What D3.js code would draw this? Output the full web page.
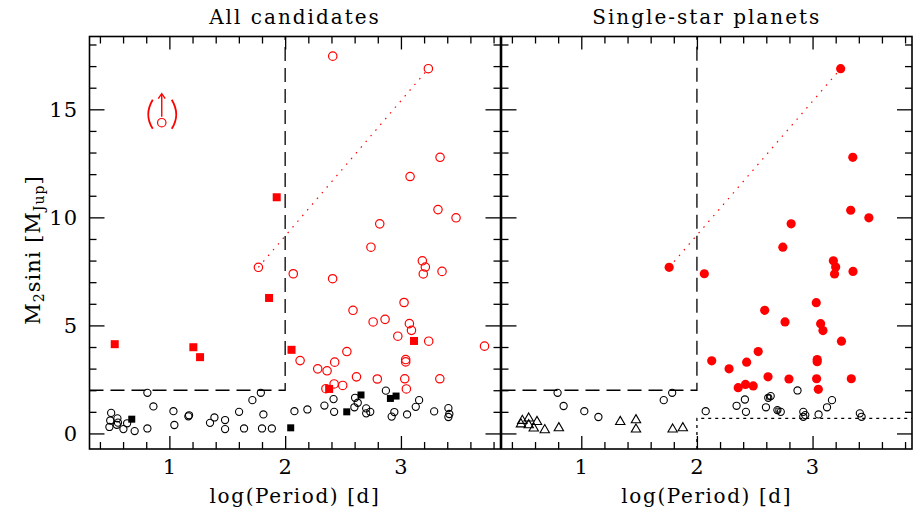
<!DOCTYPE html>
<html>
<head>
<meta charset="utf-8">
<script src="https://cdn.jsdelivr.net/npm/d3@7"></script>
<style>
  html, body { margin: 0; padding: 0; background: #fff; }
  svg { display: block; }
  text { font-family: "DejaVu Serif", "Liberation Serif", serif; fill: #000; }
</style>
</head>
<body>
<svg id="chart" width="917" height="510"></svg>
<script>
// ---- data: [log(Period), M2 sini] ----
var panelTitles = ["All candidates", "Single-star planets"];
var xTicksMajor = [1, 2, 3];
var yTicksMajor = [0, 5, 10, 15];

// left panel
var allRedOpen = [
  [2.411,17.46],[3.237,16.88],[3.338,12.78],[3.079,11.89],[3.32,10.36],[3.476,9.98],
  [2.817,9.70],[2.741,8.62],[1.769,7.69],[3.185,7.99],[3.211,7.70],[3.193,7.38],
  [3.355,7.50],[2.070,7.39],[2.410,7.16],[3.027,6.06],[2.586,5.70],[2.760,5.16],
  [2.863,5.28],[3.073,5.08],[3.091,4.77],[2.973,4.50],[3.240,4.27],[3.722,4.04],
  [2.533,3.79],[2.129,3.37],[2.428,3.30],[3.041,3.42],[3.041,3.31],[2.281,2.99],
  [2.362,2.90],[2.616,2.62],[2.796,2.52],[3.033,2.53],[3.336,2.53],[2.423,2.29],
  [2.497,2.22],[2.352,2.07],[3.047,2.06]
];
var allRedSquare = [
  [1.927,10.93],[1.861,6.27],[3.113,4.28],[0.528,4.13],[1.207,3.99],[1.265,3.53],
  [2.055,3.87],[2.380,2.06]
];
var upperLimit = [[0.934,14.38]];
var allBlackOpen = [
  [0.497,0.95],[0.489,0.60],[0.551,0.70],[0.556,0.50],[0.482,0.30],[0.546,0.40],
  [0.603,0.20],[0.635,0.47],[0.700,0.11],[0.810,1.88],[0.862,1.25],[1.035,1.03],
  [1.043,0.39],[1.164,0.79],[1.170,0.84],[0.810,0.23],[1.351,0.49],[1.389,0.74],
  [1.481,0.62],[1.481,0.20],[1.602,1.00],[1.645,0.23],[1.717,1.54],[1.790,1.88],
  [1.812,0.88],[1.800,0.23],[1.885,0.23],[2.080,1.03],[2.192,1.11],[2.339,1.29],
  [2.418,1.59],[2.423,1.00],[2.598,1.21],[2.604,1.65],[2.627,1.42],[2.700,1.16],
  [2.700,0.93],[2.735,1.00],[2.870,1.98],[2.920,0.78],[2.943,0.99],[3.053,0.88],
  [3.128,1.23],[3.157,1.54],[3.287,1.02],[3.410,1.17],[3.418,0.90],[3.410,0.76]
];
var allBlackSquare = [
  [0.675,0.66],[2.048,0.26],[2.532,1.00],[2.655,1.78],[2.909,1.62],[2.958,1.73]
];

// right panel
var singleRed = [
  [3.243,16.88],[3.348,12.78],[3.330,10.33],[3.487,9.98],[2.815,9.70],[2.743,8.62],
  [1.760,7.69],[3.180,7.99],[3.200,7.70],[3.190,7.38],[3.350,7.50],[2.064,7.39],
  [3.032,6.05],[2.586,5.70],[2.762,5.16],[3.070,5.08],[3.090,4.76],[3.250,4.27],
  [2.530,3.79],[2.128,3.36],[2.430,3.30],[3.040,3.42],[3.040,3.32],[2.278,2.99],
  [2.615,2.62],[2.796,2.52],[3.035,2.53],[3.335,2.53],[2.357,2.12],[2.420,2.27],
  [2.487,2.20],[3.050,2.04]
];
var singleBlackOpen = [
  [0.795,1.88],[0.847,1.27],[1.026,1.03],[1.148,0.76],[1.713,1.54],[1.786,1.88],
  [2.076,1.03],[2.343,1.28],[2.415,1.57],[2.424,1.00],[2.597,1.21],[2.617,1.65],
  [2.638,1.73],[2.696,1.08],[2.725,1.00],[2.870,1.99],[2.920,1.00],[2.937,0.85],
  [2.920,0.77],[3.052,0.88],[3.125,1.21],[3.168,1.54],[3.409,0.93],[3.424,0.77]
];
var singleBlackInner = [[2.620,1.68],[2.700,1.08]];
var singleTriangle = [
  [0.478,0.43],[0.490,0.59],[0.545,0.70],[0.545,0.39],[0.589,0.24],[0.617,0.54],
  [0.684,0.16],[0.806,0.25],[1.337,0.54],[1.473,0.62],[1.473,0.19],[1.790,0.19],
  [1.878,0.25]
];

var trendAll = [[1.769,7.69],[3.237,16.88]];
var trendSingle = [[1.760,7.69],[3.243,16.88]];
var boxCorner = [2, 2];     // dashed limits (logP = 2, M = 2)
var lowMassCut = 0.7;       // dotted limit in right panel

var xDomain = [0.31, 3.86];
var yDomain = [-0.72, 18.37];

// ---- layout ----
var svg = d3.select("#chart");
var yTop = 36.5, yBot = 449;
var panels = [
  { x0: 89.5, x1: 500.5, title: panelTitles[0] },
  { x0: 501.5, x1: 912, title: panelTitles[1] }
];

var y = d3.scaleLinear().domain(yDomain).range([yBot, yTop]);

var minorX = d3.range(0.4, 3.81, 0.2).filter(function(v) {
  return Math.abs(v - Math.round(v)) > 0.01;
});
var minorY = d3.range(1, 19).filter(function(v) { return v % 5 !== 0; });

panels.forEach(function(p, i) {
  p.x = d3.scaleLinear().domain(xDomain).range([p.x0, p.x1]);
  var g = svg.append("g");

  function ticks(axisFn, scale, vals, len, tr) {
    var a = g.append("g").attr("transform", tr)
      .call(axisFn(scale).tickValues(vals).tickSize(len).tickFormat(""));
    a.select(".domain").remove();
    a.selectAll("line").attr("stroke", "#000").attr("stroke-width", 1.3);
  }
  // inside ticks on all four sides
  ticks(d3.axisBottom, p.x, xTicksMajor, -13, "translate(0," + yBot + ")");
  ticks(d3.axisBottom, p.x, minorX, -7, "translate(0," + yBot + ")");
  ticks(d3.axisTop, p.x, xTicksMajor, -13, "translate(0," + yTop + ")");
  ticks(d3.axisTop, p.x, minorX, -7, "translate(0," + yTop + ")");
  ticks(d3.axisLeft, y, yTicksMajor, -15, "translate(" + p.x0 + ",0)");
  ticks(d3.axisLeft, y, minorY, -7, "translate(" + p.x0 + ",0)");
  ticks(d3.axisRight, y, yTicksMajor, -15, "translate(" + p.x1 + ",0)");
  ticks(d3.axisRight, y, minorY, -7, "translate(" + p.x1 + ",0)");

  // tick labels
  g.selectAll(".xl").data(xTicksMajor).enter().append("text")
    .attr("x", function(d) { return p.x(d); })
    .attr("y", 474)
    .attr("text-anchor", "middle")
    .style("font-size", "21px")
    .text(function(d) { return d; });

  if (i === 0) {
    g.selectAll(".yl").data(yTicksMajor).enter().append("text")
      .attr("x", 78)
      .attr("y", function(d) { return y(d) + 7.5; })
      .attr("text-anchor", "end")
      .style("font-size", "21px")
      .style("letter-spacing", "1px")
      .text(function(d) { return d; });
  }

  // frame
  g.append("rect")
    .attr("x", p.x0).attr("y", yTop)
    .attr("width", p.x1 - p.x0).attr("height", yBot - yTop)
    .attr("fill", "none").attr("stroke", "#000").attr("stroke-width", 1.6);

  // title and x label
  g.append("text")
    .attr("x", (p.x0 + p.x1) / 2).attr("y", 24)
    .attr("text-anchor", "middle")
    .style("font-size", "20px").style("letter-spacing", "2px")
    .text(p.title);
  g.append("text")
    .attr("x", (p.x0 + p.x1) / 2).attr("y", 503)
    .attr("text-anchor", "middle")
    .style("font-size", "20px").style("letter-spacing", "1.6px")
    .text("log(Period) [d]");

  // dashed box
  g.append("path")
    .attr("d", "M" + p.x0 + "," + y(boxCorner[1]) +
               "L" + p.x(boxCorner[0]) + "," + y(boxCorner[1]) +
               "L" + p.x(boxCorner[0]) + "," + yTop)
    .attr("fill", "none").attr("stroke", "#000").attr("stroke-width", 1.3)
    .attr("stroke-dasharray", "14,7");
});

var L = panels[0], R = panels[1];

// right panel dotted low-mass limit
svg.append("path")
  .attr("d", "M" + R.x(boxCorner[0]) + "," + yBot +
             "L" + R.x(boxCorner[0]) + "," + y(lowMassCut) +
             "L" + R.x1 + "," + y(lowMassCut))
  .attr("fill", "none").attr("stroke", "#000").attr("stroke-width", 1.3)
  .attr("stroke-dasharray", "3,4");

// dotted red trend lines
[[L, trendAll], [R, trendSingle]].forEach(function(pp) {
  svg.append("line")
    .attr("x1", pp[0].x(pp[1][0][0])).attr("y1", y(pp[1][0][1]))
    .attr("x2", pp[0].x(pp[1][1][0])).attr("y2", y(pp[1][1][1]))
    .attr("stroke", "#ff0000").attr("stroke-width", 1.2)
    .attr("stroke-dasharray", "1.5,6");
});

function circles(p, data, r, stroke, fill, sw) {
  svg.append("g").selectAll("circle").data(data).enter().append("circle")
    .attr("cx", function(d) { return p.x(d[0]); })
    .attr("cy", function(d) { return y(d[1]); })
    .attr("r", r)
    .attr("fill", fill).attr("stroke", stroke).attr("stroke-width", sw);
}
function squares(p, data, s, stroke, fill, sw) {
  svg.append("g").selectAll("rect").data(data).enter().append("rect")
    .attr("x", function(d) { return p.x(d[0]) - s / 2; })
    .attr("y", function(d) { return y(d[1]) - s / 2; })
    .attr("width", s).attr("height", s)
    .attr("fill", fill).attr("stroke", stroke).attr("stroke-width", sw);
}

// left panel marks
circles(L, allBlackOpen, 3.6, "#000", "none", 1.1);
squares(L, allBlackSquare, 7, "none", "#000", 0);
circles(L, allRedOpen, 4.2, "#ff0000", "none", 1.2);
squares(L, allRedSquare, 8, "none", "#ff0000", 0);

// upper limit marker: circle, arrow, brackets
upperLimit.forEach(function(d) {
  var cx = L.x(d[0]), cy = y(d[1]);
  var g = svg.append("g").attr("stroke", "#ff0000").attr("fill", "none").attr("stroke-width", 1.4);
  g.append("circle").attr("cx", cx).attr("cy", cy).attr("r", 4.2).attr("stroke-width", 1.2);
  g.append("line").attr("x1", cx).attr("y1", cy - 6).attr("x2", cx).attr("y2", cy - 28);
  g.append("path").attr("d", "M" + (cx - 3.5) + "," + (cy - 24) + "L" + cx + "," + (cy - 29) + "L" + (cx + 3.5) + "," + (cy - 24));
  g.append("path").attr("d", "M" + (cx - 9) + "," + (cy - 23) + "Q" + (cx - 18) + "," + (cy - 8) + " " + (cx - 9) + "," + (cy + 6)).attr("stroke-width", 1.8);
  g.append("path").attr("d", "M" + (cx + 10) + "," + (cy - 23) + "Q" + (cx + 19) + "," + (cy - 8) + " " + (cx + 10) + "," + (cy + 6)).attr("stroke-width", 1.8);
});

// right panel marks
circles(R, singleBlackOpen, 3.6, "#000", "none", 1.1);
squares(R, singleBlackInner, 4, "#000", "none", 1);
svg.append("g").selectAll("path").data(singleTriangle).enter().append("path")
  .attr("d", d3.symbol().type(d3.symbolTriangle).size(38))
  .attr("transform", function(d) { return "translate(" + R.x(d[0]) + "," + y(d[1]) + ")"; })
  .attr("fill", "none").attr("stroke", "#000").attr("stroke-width", 1.1);
circles(R, singleRed, 4.6, "none", "#ff0000", 0);

// y axis label
var yl = svg.append("text")
  .attr("transform", "translate(40,250) rotate(-90)")
  .attr("text-anchor", "middle")
  .style("font-size", "21px")
  .style("letter-spacing", "1px");
yl.append("tspan").text("M");
yl.append("tspan").attr("baseline-shift", "-25%").style("font-size", "14px").text("2");
yl.append("tspan").text("sini [M");
yl.append("tspan").attr("baseline-shift", "-25%").style("font-size", "14px").text("Jup");
yl.append("tspan").text("]");
</script>
</body>
</html>
